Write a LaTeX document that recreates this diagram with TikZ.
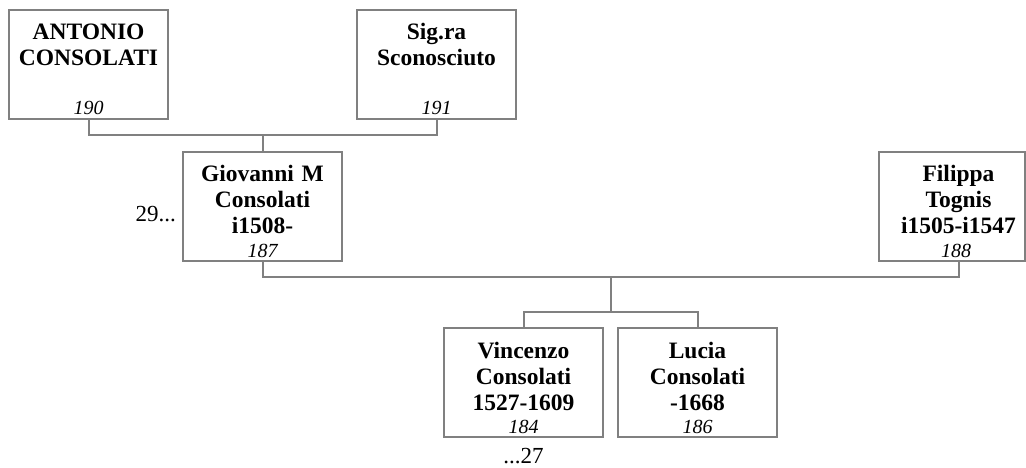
\documentclass[tikz,border=0pt]{standalone}
\usepackage{fontspec}
\setmainfont{Liberation Serif}
\definecolor{boxgray}{RGB}{128,128,128}

\begin{document}
\begin{tikzpicture}[x=1pt, y=-1pt,
    person/.style={draw=boxgray, line width=2pt, minimum width=159pt,
      minimum height=109pt, inner sep=0pt},
    pname/.style={text width=155pt, align=center, anchor=base, inner sep=0pt,
      font=\fontsize{23.5}{26}\selectfont\bfseries},
    pnum/.style={anchor=base, inner sep=0pt, font=\fontsize{20}{21}\selectfont\itshape},
    pmore/.style={inner sep=0pt, font=\fontsize{23}{24}\selectfont},
    link/.style={draw=boxgray, line width=2pt}]

  \useasboundingbox (0,0) rectangle (1026,468);

  % Boxes of the persons
  \node[person] (p190) at (88.5,64.5)  {};
  \node[person] (p191) at (436.5,64.5) {};
  \node[person] (p187) at (262.5,206.5) {};
  \node[person, minimum width=146pt] (p188) at (952,206.5) {};
  \node[person] (p184) at (523.5,382.5) {};
  \node[person] (p186) at (697.5,382.5) {};

  % Names and numbers
  \node[pname] (n190) at ([yshift=-31pt]p190.north) {ANTONIO\\CONSOLATI};
  \node[pnum]  (k190) at ([yshift=5pt]p190.south)   {190};
  \node[pname] (n191) at ([yshift=-31pt]p191.north) {Sig.ra\\Sconosciuto};
  \node[pnum]  (k191) at ([yshift=5pt]p191.south)   {191};
  \node[pname] (n187) at ([yshift=-31pt]p187.north) {Giovanni M\\Consolati\\i1508-};
  \node[pnum]  (k187) at ([yshift=5pt]p187.south)   {187};
  \node[pname] (n188) at ([xshift=6.5pt,yshift=-31pt]p188.north) {Filippa\\Tognis\\i1505-i1547};
  \node[pnum]  (k188) at ([xshift=4pt,yshift=5pt]p188.south)     {188};
  \node[pname] (n184) at ([yshift=-31pt]p184.north) {Vincenzo\\Consolati\\1527-1609};
  \node[pnum]  (k184) at ([yshift=5pt]p184.south)   {184};
  \node[pname] (n186) at ([yshift=-31pt]p186.north) {Lucia\\Consolati\\-1668};
  \node[pnum]  (k186) at ([yshift=5pt]p186.south)   {186};

  % Links to other pages
  \node[pmore, anchor=base east] (up187) at ([xshift=-6pt,yshift=-15.5pt]p187.west) {29...};
  \node[pmore, anchor=base] (dn184) at ([yshift=-25pt]p184.south) {...27};

  % Family lines
  \coordinate (m1) at (262.5,135);
  \coordinate (m2) at (610.75,277);
  \coordinate (c2) at (610.75,312);
  \coordinate (t188) at ([xshift=7pt]p188.south);

  \path[link] (p190.south) |- (m1) -| (p191.south)
              (m1) -- (p187.north)
              (p187.south) |- (m2) -| (t188)
              (m2) -- (c2)
              (p184.north) |- (c2) -| (p186.north);

\end{tikzpicture}
\end{document}
